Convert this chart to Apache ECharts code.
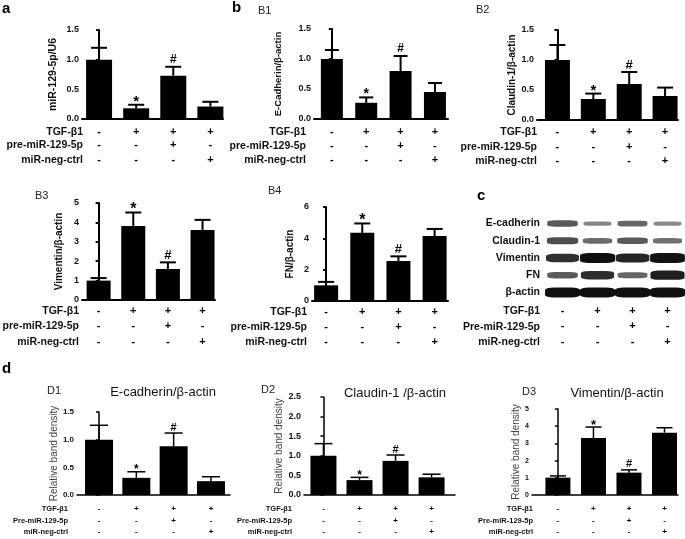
<!DOCTYPE html>
<html><head><meta charset="utf-8">
<script src="https://cdn.jsdelivr.net/npm/echarts@6/dist/echarts.min.js"></script>
<style>html,body{margin:0;padding:0;background:#fff}#c{width:685px;height:539px}</style>
</head><body><div id="c"></div>
<script>
// ---------- data ----------
const groups = ['Control', 'TGF-β1', 'TGF-β1 + pre-miR-129-5p', 'TGF-β1 + miR-neg-ctrl'];
const rowNamesAB = ['TGF-β1', 'pre-miR-129-5p', 'miR-neg-ctrl'];
const rowNamesCD = ['TGF-β1', 'Pre-miR-129-5p', 'miR-neg-ctrl'];
const signTGF = ['-', '+', '+', '+'];
const signPre = ['-', '-', '+', '-'];
const signNeg = ['-', '-', '-', '+'];
const sigMarks = ['', '*', '#', ''];

const aMean = [1.0, 0.18, 0.73, 0.21];   const aErr = [0.2, 0.06, 0.15, 0.08];
const b1Mean = [1.0, 0.27, 0.80, 0.45];  const b1Err = [0.15, 0.09, 0.25, 0.15];
const b2Mean = [1.0, 0.35, 0.60, 0.40];  const b2Err = [0.25, 0.09, 0.2, 0.14];
const b3Mean = [1.0, 3.82, 1.60, 3.61];  const b3Err = [0.13, 0.69, 0.34, 0.52];
const b4Mean = [1.0, 4.35, 2.55, 4.15];  const b4Err = [0.22, 0.6, 0.3, 0.45];
const d1Mean = [1.0, 0.31, 0.88, 0.25];  const d1Err = [0.26, 0.11, 0.24, 0.08];
const d2Mean = [1.0, 0.38, 0.87, 0.45];  const d2Err = [0.31, 0.07, 0.15, 0.08];
const d3Mean = [1.01, 3.31, 1.30, 3.62]; const d3Err = [0.1, 0.64, 0.16, 0.29];

const proteins = ['E-cadherin', 'Claudin-1', 'Vimentin', 'FN', 'β-actin'];
const lanes = ['1', '2', '3', '4'];
const bandEcad = [0.5, 0.2, 0.42, 0.18];
const bandCldn = [0.58, 0.38, 0.5, 0.35];
const bandVim  = [0.78, 1.0, 0.85, 0.98];
const bandFN   = [0.5, 0.8, 0.42, 0.9];
const bandActin = [1, 1, 1, 1];

// ---------- layout ----------
const FF = '"Liberation Sans", Arial, sans-serif';
const signRows = [signTGF, signPre, signNeg];
const panels = [
  {mean:aMean, err:aErr, ax:82, end:223, top:30, zero:119, ymax:1.5, yint:0.5, xmin:-0.46, xmax:3.34, bw:26, cap:8, lw:2,
   name:'miR-129-5p/U6', ng:23, nf:10.5, tf:9, offs:[13,26,41], sf:11, star:15, hash:12, dec:1, small:false},
  {mean:b1Mean, err:b1Err, ax:314, end:448, top:29, zero:119, ymax:1.5, yint:0.5, xmin:-0.52, xmax:3.38, bw:22, cap:7, lw:2,
   name:'E-Cadherin/β-actin', ng:31, nf:9.5, tf:9, offs:[13,27,41], sf:11, star:14, hash:12, dec:1, small:false},
  {mean:b2Mean, err:b2Err, ax:537, end:678, top:30, zero:120, ymax:1.5, yint:0.5, xmin:-0.57, xmax:3.36, bw:25, cap:8, lw:2,
   name:'Claudin-1/β-actin', ng:20, nf:10, tf:9, offs:[12,27,41], sf:11, star:15, hash:13, dec:1, small:false},
  {mean:b3Mean, err:b3Err, ax:82, end:215, top:203, zero:300, ymax:5, yint:1, xmin:-0.48, xmax:3.36, bw:24, cap:8, lw:2,
   name:'Vimentin/β-actin', ng:18, nf:10, tf:9, offs:[11,26,42], sf:11, star:16, hash:13, dec:0, small:false},
  {mean:b4Mean, err:b4Err, ax:312, end:448, top:207, zero:301, ymax:6, yint:2, xmin:-0.39, xmax:3.37, bw:24, cap:8, lw:2,
   name:'FN/β-actin', ng:17, nf:10, tf:9, offs:[11,26,41], sf:11, star:16, hash:13, dec:0, small:false},
  {mean:d1Mean, err:d1Err, ax:77, end:230, top:412, zero:495, ymax:1.5, yint:0.5, xmin:-0.59, xmax:3.51, bw:28, cap:9, lw:1.5,
   name:'Relative band density', ng:18, nf:10, tf:8, offs:[14,26,37], sf:8, star:12, hash:11, dec:1, small:true},
  {mean:d2Mean, err:d2Err, ax:304, end:455, top:397, zero:495, ymax:2.5, yint:0.5, xmin:-0.54, xmax:3.65, bw:26, cap:9, lw:1.5,
   name:'Relative band density', ng:20, nf:10, tf:9, offs:[14,26,37], sf:8, star:12, hash:11, dec:1, small:true},
  {mean:d3Mean, err:d3Err, ax:532, end:678, top:409, zero:495, ymax:5, yint:1, xmin:-0.73, xmax:3.38, bw:25, cap:8, lw:1.5,
   name:'Relative band density', ng:7, nf:10, tf:7, offs:[14,26,37], sf:8, star:13, hash:11, dec:0, small:true}
];

const grid = [], xAxis = [], yAxis = [], series = [];
panels.forEach((p, gi) => {
  grid.push({left:p.ax, top:p.top, width:p.end - p.ax, height:p.zero - p.top, containLabel:false});
  const ls = {color:'#000', width:p.lw};
  xAxis.push({gridIndex:gi, type:'value', min:p.xmin, max:p.xmax,
    axisLine:{show:true, onZero:false, lineStyle:ls}, axisTick:{show:false}, axisLabel:{show:false}, splitLine:{show:false}});
  yAxis.push({gridIndex:gi, type:'value', min:0, max:p.ymax, interval:p.yint,
    axisLine:{show:true, lineStyle:ls}, axisTick:{show:true, length:3, lineStyle:ls},
    axisLabel:{fontFamily:FF, fontSize:p.tf, fontWeight:'bold', color:'#111', margin:3,
      formatter:v => v.toFixed(p.dec)},
    splitLine:{show:false},
    name:p.name, nameLocation:'middle', nameGap:p.ng,
    nameTextStyle:{fontFamily:FF, fontSize:p.nf, fontWeight:p.small ? 'normal' : 'bold', color:p.small ? '#444' : '#111'}});
  series.push({type:'bar', xAxisIndex:gi, yAxisIndex:gi, barWidth:p.bw, silent:true,
    data:p.mean.map((v, i) => [i, v]), itemStyle:{color:'#000'}});
  series.push({type:'custom', xAxisIndex:gi, yAxisIndex:gi, silent:true, clip:false,
    data:p.mean.map((v, i) => [i, v, v + p.err[i]]),
    renderItem:(params, api) => {
      const i = params.dataIndex;
      const x = api.value(0), m = api.value(1), t = api.value(2);
      const pb = api.coord([x, m]), pt = api.coord([x, t]), p0 = api.coord([x, 0]);
      const st = {stroke:'#000', lineWidth:p.lw};
      const ch = [
        {type:'line', shape:{x1:pb[0], y1:pb[1], x2:pt[0], y2:pt[1]}, style:st},
        {type:'line', shape:{x1:pt[0] - p.cap, y1:pt[1], x2:pt[0] + p.cap, y2:pt[1]}, style:st}
      ];
      const mk = sigMarks[i];
      if (mk === '*') ch.push({type:'text', style:{text:mk, x:pt[0], y:pt[1] - (p.small ? 2 : 3),
        align:'center', verticalAlign:'middle', font:`bold ${p.star}px ${FF}`, fill:'#000'}});
      if (mk === '#') ch.push({type:'text', style:{text:mk, x:pt[0], y:pt[1] - (p.small ? 5.5 : 7),
        align:'center', verticalAlign:'middle', font:`bold ${p.hash}px ${FF}`, fill:'#000'}});
      signRows.forEach((row, r) => ch.push({type:'text', style:{text:row[i], x:p0[0], y:p0[1] + p.offs[r],
        align:'center', verticalAlign:'middle', font:`bold ${p.sf}px ${FF}`, fill:'#000'}}));
      return {type:'group', children:ch};
    }});
});

// western blot (panel c)
const bgi = panels.length;
grid.push({left:545, top:215, width:140, height:86, containLabel:false});
xAxis.push({gridIndex:bgi, type:'category', data:lanes, axisLine:{show:false}, axisTick:{show:false}, splitLine:{show:false},
  axisLabel:{margin:2, lineHeight:15.5, fontFamily:FF, fontSize:11, fontWeight:'bold', color:'#000',
    formatter:(v, idx) => signTGF[idx] + '\n' + signPre[idx] + '\n' + signNeg[idx]}});
yAxis.push({gridIndex:bgi, type:'category', data:proteins, inverse:true, axisLine:{show:false}, axisTick:{show:false},
  splitLine:{show:false}, axisLabel:{margin:5, fontFamily:FF, fontSize:10.5, fontWeight:'bold', color:'#111'}});
const bandRows = [bandEcad, bandCldn, bandVim, bandFN, bandActin];
const blotData = [];
bandRows.forEach((row, pi) => row.forEach((v, li) => blotData.push([li, pi, v])));
series.push({type:'scatter', xAxisIndex:bgi, yAxisIndex:bgi, silent:true, symbol:'roundRect',
  data:blotData,
  symbolSize:val => [26 + 9 * val[2], 3 + 7 * val[2]],
  itemStyle:{opacity:1, color:params => {
    const g = Math.round(165 - 150 * params.value[2]);
    return `rgb(${g},${g},${g})`;
  }}});

// ---------- text annotations ----------
const graphic = [];
function txt(text, x, y, font, align, fill) {
  graphic.push({type:'text', silent:true, style:{text, x, y, font:`${font} ${FF}`, align:align || 'left', verticalAlign:'middle', fill:fill || '#000'}});
}
txt('a', 2, 9, 'bold 15px'); txt('b', 232, 8, 'bold 15px'); txt('c', 477, 196, 'bold 15px'); txt('d', 2, 369, 'bold 15px');
txt('B1', 258, 11, '11px', 'left', '#222'); txt('B2', 476, 10, '11px', 'left', '#222');
txt('B3', 35, 196, '11px', 'left', '#222'); txt('B4', 268, 191, '11px', 'left', '#222');
txt('D1', 47, 391, '11px', 'left', '#222'); txt('D2', 261, 390, '11px', 'left', '#222'); txt('D3', 522, 392, '11px', 'left', '#222');
txt('E-cadherin/β-actin', 163, 392, '13px', 'center', '#111');
txt('Claudin-1 /β-actin', 395, 393, '13px', 'center', '#111');
txt('Vimentin/β-actin', 617, 393, '13px', 'center', '#111');
const rowLabelPos = [
  {names:rowNamesAB, x:83, ys:[132,145,160], f:'bold 10.5px'},
  {names:rowNamesAB, x:306, ys:[132,146,160], f:'bold 10.5px'},
  {names:rowNamesAB, x:537, ys:[132,147,161], f:'bold 10.5px'},
  {names:rowNamesAB, x:79, ys:[311,326,342], f:'bold 10.5px'},
  {names:rowNamesAB, x:307, ys:[312,327,342], f:'bold 10.5px'},
  {names:rowNamesCD, x:540, ys:[311,327,342], f:'bold 10.5px'},
  {names:rowNamesCD, x:68, ys:[509,521,532], f:'bold 7.5px'},
  {names:rowNamesCD, x:292, ys:[509,521,532], f:'bold 7.5px'},
  {names:rowNamesCD, x:533, ys:[509,521,532], f:'bold 7.5px'}
];
rowLabelPos.forEach(r => r.names.forEach((n, k) => txt(n, r.x, r.ys[k], r.f, 'right', '#111')));

const chart = echarts.init(document.getElementById('c'));
chart.setOption({animation:false, backgroundColor:'#fff', grid, xAxis, yAxis, series, graphic});
</script></body></html>
